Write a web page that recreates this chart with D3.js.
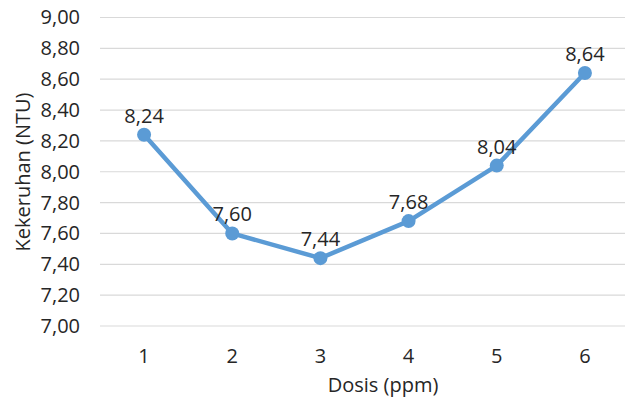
<!DOCTYPE html>
<html><head><meta charset="utf-8">
<script src="https://cdn.jsdelivr.net/npm/d3@7"></script>
<style>body{margin:0;background:#fff}svg text{font-family:"Open Sans",sans-serif;fill:#262626}</style>
</head><body>
<svg id="c" width="625" height="400"></svg>
<script>
const categories = ["1","2","3","4","5","6"];
const values = [8.24, 7.60, 7.44, 7.68, 8.04, 8.64];
const yTicks = [7.0,7.2,7.4,7.6,7.8,8.0,8.2,8.4,8.6,8.8,9.0];
const xTitle = "Dosis (ppm)";
const yTitle = "Kekeruhan (NTU)";

const svg = d3.select("#c");
const fmt = v => v.toFixed(2).replace(".", ",");
const x = d3.scaleBand().domain(categories).range([100, 629]);
const y = d3.scaleLinear().domain([7, 9]).range([326, 17.5]);
const FS = 20;

const grid = svg.append("g");
grid.selectAll("line").data(yTicks).join("line")
  .attr("x1", 100).attr("x2", 629)
  .attr("y1", d => y(d)).attr("y2", d => y(d))
  .attr("stroke", "#d9d9d9").attr("stroke-width", 1.2);

const yAxis = svg.append("g").attr("transform","translate(100,0)")
  .call(d3.axisLeft(y).tickValues(yTicks).tickFormat(fmt).tickSize(0).tickPadding(20));
yAxis.attr("font-size", FS).attr("font-family", null);
yAxis.select(".domain").remove();
yAxis.selectAll("text").style("fill","#262626");

const xAxis = svg.append("g").attr("transform","translate(0,326)")
  .call(d3.axisBottom(x).tickSize(0).tickPadding(23));
xAxis.attr("font-size", FS).attr("font-family", null);
xAxis.select(".domain").remove();
xAxis.selectAll("text").style("fill","#262626");

const line = d3.line().x((d,i) => x(categories[i]) + x.bandwidth()/2).y(d => y(d));
svg.append("path").datum(values).attr("d", line)
  .attr("fill","none").attr("stroke","#5b9bd5").attr("stroke-width",4.5).attr("stroke-linejoin","round");
svg.selectAll("circle.pt").data(values).join("circle")
  .attr("cx",(d,i)=>x(categories[i])+x.bandwidth()/2).attr("cy",d=>y(d))
  .attr("r",7).attr("fill","#5b9bd5");
svg.selectAll("text.lbl").data(values).join("text").attr("class","lbl")
  .attr("x",(d,i)=>x(categories[i])+x.bandwidth()/2).attr("y",d=>y(d)-12)
  .attr("text-anchor","middle").attr("font-size",FS).text(fmt);

svg.append("text").attr("x",383).attr("y",392).attr("text-anchor","middle")
  .attr("font-size",FS).text(xTitle);
svg.append("text").attr("transform","translate(30,172) rotate(-90)").attr("text-anchor","middle")
  .attr("font-size",FS).text(yTitle);
</script>
</body></html>
